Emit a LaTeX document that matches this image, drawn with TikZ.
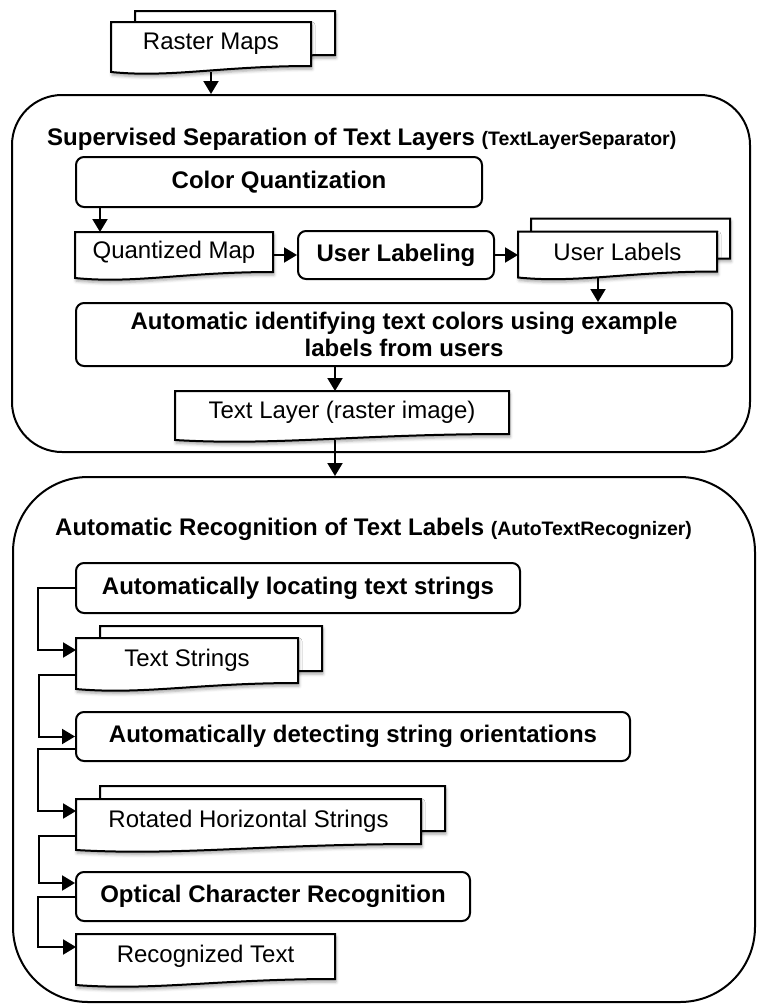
\documentclass[tikz,border=0pt]{standalone}
\usepackage{fontspec}
\setmainfont{Liberation Sans}
\usepackage{tikz}
\usetikzlibrary{arrows.meta, calc, backgrounds, shadows.blur}

\newcommand{\docpage}[3]{%
  \begin{scope}[on background layer]
    \draw[page] ($(#1.north west)+(#2,#3)$) -- ($(#1.north east)+(#2,#3)$)
      -- ($(#1.south east)+(#2,#3)$)
      .. controls ($(#1.south west)!0.55!(#1.south east)+(#2,#3)$)
      and ($(#1.south west)!0.3!(#1.south east)+(#2,#3+12)$)
      .. ($(#1.south west)+(#2,#3+6)$) -- cycle;
  \end{scope}}

\begin{document}
\begin{tikzpicture}[x=1pt, y=-1pt]
    \tikzstyle{group}=[draw, line width=2pt, inner sep=0pt]
    \tikzstyle{box}=[draw, fill=white, line width=2pt, rounded corners=8pt, inner sep=0pt,
                     align=center, font=\fontsize{24}{27}\selectfont\bfseries]
    \tikzstyle{doc}=[inner sep=0pt, outer sep=0pt, font=\fontsize{24}{27}\selectfont]
    \tikzstyle{page}=[line width=2pt, fill=white,
                      blur shadow={shadow xshift=1pt, shadow yshift=-3pt, shadow blur radius=3pt, shadow opacity=35}]
    \tikzstyle{title}=[anchor=base west, inner sep=0pt, font=\fontsize{24}{27}\selectfont\bfseries]
    \tikzstyle{arr}=[-{Triangle[length=13pt, width=15pt]}, line width=2pt]

    \useasboundingbox (0,0) rectangle (756,1004);

    \node[group, rounded corners=50pt, minimum width=738, minimum height=357] (sep) at (381,273.5) {};
    \node[group, rounded corners=75pt, minimum width=742, minimum height=525] (rec) at (384,739.5) {};

    \node[title] (septitle) at (47,145) {Supervised Separation of Text Layers
      {\fontsize{19.5}{22}\selectfont (TextLayerSeparator)}};
    \node[title] (rectitle) at (55,535) {Automatic Recognition of Text Labels
      {\fontsize{19.5}{22}\selectfont (AutoTextRecognizer)}};

    \node[doc, minimum width=200, minimum height=44] (raster)    at (211,44)      {Raster Maps};
    \node[box, minimum width=406, minimum height=50] (cq)        at (279,182)     {Color Quantization};
    \node[doc, minimum width=198, minimum height=40] (qmap)      at (174,252)     {Quantized Map};
    \node[box, minimum width=196, minimum height=48] (ulab)      at (396,255)     {User Labeling};
    \node[doc, minimum width=199, minimum height=40] (ulabels)   at (617.5,251.5) {User Labels};
    \node[box, minimum width=656, minimum height=63] (autoid)    at (404,334.5)
      {Automatic identifying text colors using example\\labels from users};
    \node[doc, minimum width=334, minimum height=43] (textlayer) at (342,412.5)   {Text Layer (raster image)};

    \node[box, minimum width=444, minimum height=50] (locate)    at (298,588)     {Automatically locating text strings};
    \node[doc, minimum width=222, minimum height=45] (tstrings)  at (187,660.5)   {Text Strings};
    \node[box, minimum width=554, minimum height=49] (detect)    at (353,736.5)   {Automatically detecting string orientations};
    \node[doc, minimum width=345, minimum height=45] (rotated)   at (248.5,821.5) {Rotated Horizontal Strings};
    \node[box, minimum width=394, minimum height=49] (ocr)       at (273,896.5)   {Optical Character Recognition};
    \node[doc, minimum width=259, minimum height=45] (rectext)   at (205.5,956.5) {Recognized Text};

    \docpage{raster}{24}{-11}
    \docpage{raster}{0}{0}
    \docpage{qmap}{0}{0}
    \docpage{ulabels}{13}{-13}
    \docpage{ulabels}{0}{0}
    \docpage{textlayer}{0}{0}
    \docpage{tstrings}{24}{-12}
    \docpage{tstrings}{0}{0}
    \docpage{rotated}{24}{-13}
    \docpage{rotated}{0}{0}
    \docpage{rectext}{0}{0}

    \coordinate (ulout) at ($(ulabels.south west)+(80,6)$);
    \coordinate (tlout) at ($(textlayer.south west)+(160,6)$);

    \draw[arr] ($(raster.south)+(0,6)$) -- (raster.south |- sep.north);
    \draw[arr] ($(cq.south west)+(25,0)$) -- ($(qmap.north west)+(25,0)$);
    \draw[arr] (ulab.west -| qmap.east) -- (ulab.west);
    \draw[arr] (ulab.east) -- (ulab.east -| ulabels.west);
    \draw[arr] (ulout) -- (ulout |- autoid.north);
    \draw[arr] (autoid.south -| tlout) -- (textlayer.north -| tlout);
    \draw[arr] (tlout) -- (tlout |- rec.north);

    \draw[arr] (locate.west) -- ++(-37,0) |- ($(tstrings.north west)+(0,12)$);
    \draw[arr] ($(tstrings.south west)+(0,-8)$) -- ++(-37,0) |- (detect.west);
    \draw[arr] ($(detect.west)+(0,12.5)$) -- ++(-37,0) |- ($(rotated.north west)+(0,12)$);
    \draw[arr] ($(rotated.south west)+(0,-8)$) -- ++(-37,0) |- ($(ocr.north west)+(0,12)$);
    \draw[arr] (ocr.west) -- ++(-37,0) |- ($(rectext.north west)+(0,13)$);
\end{tikzpicture}
\end{document}
